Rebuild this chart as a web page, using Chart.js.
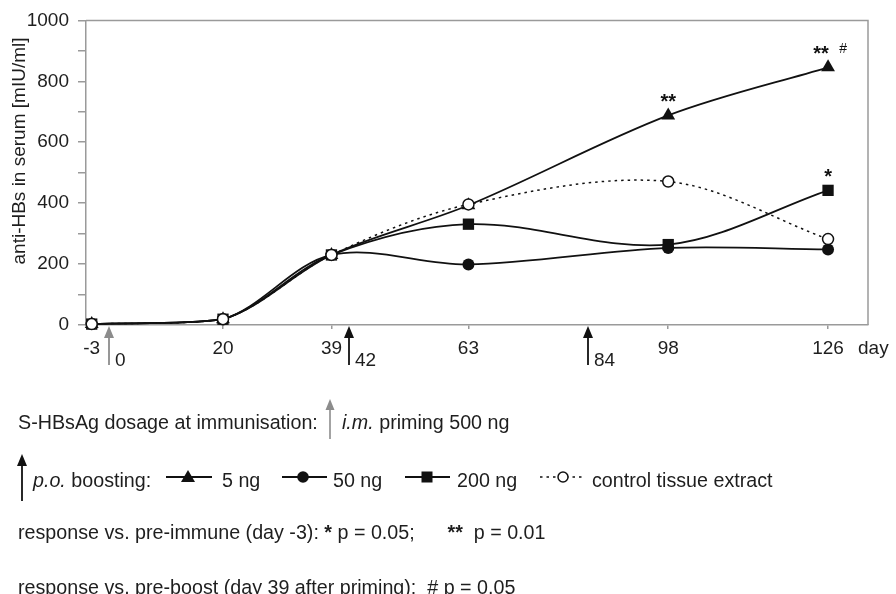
<!DOCTYPE html>
<html>
<head>
<meta charset="utf-8">
<script src="https://cdn.jsdelivr.net/npm/chart.js@4"></script>
<style>
  body { margin: 0; background: #fff; width: 896px; height: 594px; position: relative; overflow: hidden;
         font-family: "Liberation Sans", Arial, sans-serif; color: #1e1e1e; }
  #chart { position: absolute; left: 0; top: 0; }
  .t { position: absolute; font-size: 19.7px; line-height: 22px; white-space: pre; }
  svg { position: absolute; left: 0; top: 0; }
</style>
</head>
<body>
<canvas id="chart" width="896" height="390"></canvas>

<svg width="896" height="594">
  <!-- i.m. priming arrow -->
  <line x1="330" y1="439" x2="330" y2="404" stroke="#8c8c8c" stroke-width="1.6"/>
  <polygon points="330,399 325.5,410 334.5,410" fill="#8c8c8c"/>
  <!-- p.o. boosting arrow -->
  <line x1="22" y1="501" x2="22" y2="460" stroke="#111" stroke-width="1.8"/>
  <polygon points="22,454 17,466 27,466" fill="#111"/>
  <!-- legend samples -->
  <line x1="166" y1="477" x2="212" y2="477" stroke="#111" stroke-width="1.8"/>
  <polygon points="188,470 195,482 181,482" fill="#111"/>
  <line x1="282" y1="477" x2="327" y2="477" stroke="#111" stroke-width="1.8"/>
  <circle cx="303" cy="477" r="5.8" fill="#111"/>
  <line x1="405" y1="477" x2="450" y2="477" stroke="#111" stroke-width="1.8"/>
  <rect x="421.5" y="471.5" width="11" height="11" fill="#111"/>
  <line x1="540" y1="477" x2="583" y2="477" stroke="#111" stroke-width="1.5" stroke-dasharray="2.5,4"/>
  <circle cx="563" cy="477" r="5" fill="#fff" stroke="#111" stroke-width="1.5"/>
</svg>

<div class="t" style="left:18px; top:411px;">S-HBsAg dosage at immunisation:</div>
<div class="t" style="left:342px; top:411px;"><i>i.m.</i> priming 500 ng</div>

<div class="t" style="left:33px; top:469px;"><i>p.o.</i> boosting:</div>
<div class="t" style="left:222px; top:469px;">5 ng</div>
<div class="t" style="left:333px; top:469px;">50 ng</div>
<div class="t" style="left:457px; top:469px;">200 ng</div>
<div class="t" style="left:592px; top:469px;">control tissue extract</div>

<div class="t" style="left:18px; top:521px;">response vs. pre-immune (day -3): <b>*</b> p = 0.05;      <b>**</b>  p = 0.01</div>
<div class="t" style="left:18px; top:576px;">response vs. pre-boost (day 39 after priming):  # p = 0.05</div>

<script>
// sampling days and anti-HBs titres (mIU/ml)
const days = [-3, 20, 39, 63, 98, 126];
const dose5ng = [3, 19, 230, 393, 688, 846];
const dose50ng = [3, 19, 230, 199, 253, 248];
const dose200ng = [3, 19, 230, 331, 264, 442];
const controlExtract = [3, 19, 230, 396, 471, 282];

const primingDays = [0];
const boostDays = [42, 84];

// significance marks: [day, series, text]
const marks = [
  [98, dose5ng, "**"],
  [126, dose5ng, "**"],
  [126, dose200ng, "*"],
];
const boostMarks = [[126, dose5ng, "#"]];

const AXIS = "#9a9a9a";
const INK = "#111";
const FONT = "'Liberation Sans', Arial, sans-serif";

const toXY = vals => days.map((d, i) => ({ x: d, y: vals[i] }));

function series(vals, style, order) {
  return {
    data: toXY(vals),
    order,
    clip: false,
    borderColor: INK,
    borderWidth: 1.8,
    backgroundColor: INK,
    pointBackgroundColor: INK,
    pointBorderColor: INK,
    pointBorderWidth: 0,
    pointStyle: style,
    pointRadius: style == "circle" ? 6 : 8,
    tension: 0.33,
    fill: false,
  };
}

const extras = {
  id: "extras",
  afterDatasetsDraw(chart) {
    const { ctx, chartArea: a, scales: { x, y } } = chart;
    ctx.save();

    // box round the plot
    ctx.strokeStyle = AXIS;
    ctx.lineWidth = 1.5;
    ctx.beginPath();
    ctx.moveTo(a.left, a.top);
    ctx.lineTo(a.right, a.top);
    ctx.lineTo(a.right, a.bottom);
    ctx.stroke();

    // immunisation arrows under the axis
    const arrow = (day, color) => {
      const px = Math.round(x.getPixelForValue(day));
      ctx.strokeStyle = color;
      ctx.fillStyle = color;
      ctx.lineWidth = 1.8;
      ctx.beginPath();
      ctx.moveTo(px, a.bottom + 40);
      ctx.lineTo(px, a.bottom + 8);
      ctx.stroke();
      ctx.beginPath();
      ctx.moveTo(px, a.bottom + 1);
      ctx.lineTo(px - 5, a.bottom + 13);
      ctx.lineTo(px + 5, a.bottom + 13);
      ctx.closePath();
      ctx.fill();
      ctx.fillStyle = "#1e1e1e";
      ctx.font = "19px " + FONT;
      ctx.textAlign = "left";
      ctx.textBaseline = "middle";
      ctx.fillText(String(day), px + 6, a.bottom + 36);
    };
    primingDays.forEach(d => arrow(d, "#8c8c8c"));
    boostDays.forEach(d => arrow(d, INK));

    // unit label
    ctx.fillStyle = "#1e1e1e";
    ctx.font = "19px " + FONT;
    ctx.textAlign = "left";
    ctx.textBaseline = "middle";
    ctx.fillText("day", a.right - 10, a.bottom + 24);

    // y title
    ctx.save();
    ctx.translate(20, 151);
    ctx.rotate(-Math.PI / 2);
    ctx.textAlign = "center";
    ctx.fillText("anti-HBs in serum [mIU/ml]", 0, 0);
    ctx.restore();

    // significance
    ctx.fillStyle = INK;
    ctx.textAlign = "center";
    ctx.textBaseline = "alphabetic";
    ctx.font = "bold 20px " + FONT;
    marks.forEach(([day, vals, txt]) => {
      const i = days.indexOf(day);
      const dx = txt == "**" && day == 126 ? -7 : 0;
      ctx.fillText(txt, x.getPixelForValue(day) + dx, y.getPixelForValue(vals[i]) - 7);
    });
    ctx.font = "14px " + FONT;
    boostMarks.forEach(([day, vals, txt]) => {
      const i = days.indexOf(day);
      ctx.fillText(txt, x.getPixelForValue(day) + 15, y.getPixelForValue(vals[i]) - 14);
    });
    ctx.restore();
  }
};

const control = series(controlExtract, "circle", 0);
control.borderWidth = 1.5;
control.borderDash = [2.5, 4];
control.pointBackgroundColor = "#fff";
control.pointBorderWidth = 1.5;
control.pointRadius = 5.5;

new Chart(document.getElementById("chart"), {
  type: "line",
  data: {
    datasets: [
      control,
      series(dose200ng, "rect", 1),
      series(dose50ng, "circle", 2),
      series(dose5ng, "triangle", 3),
    ]
  },
  options: {
    responsive: false,
    animation: false,
    events: [],
    layout: { padding: { left: 0, top: 16, right: 28, bottom: 0 } },
    plugins: { legend: { display: false }, tooltip: { enabled: false } },
    scales: {
      x: {
        type: "linear",
        min: -4,
        max: 133,
        afterBuildTicks: s => { s.ticks = days.map(v => ({ value: v })) },
        afterFit: s => { s.height = 390 - 325 },
        border: { display: true, color: AXIS, width: 1.5 },
        grid: { drawOnChartArea: false, drawTicks: true, tickLength: 4, color: AXIS, lineWidth: 1.5 },
        ticks: { padding: 8, color: "#1e1e1e", font: { size: 19, family: FONT }, maxRotation: 0, autoSkip: false },
      },
      y: {
        min: 0,
        max: 1000,
        afterFit: s => { s.width = 86 },
        border: { display: true, color: AXIS, width: 1.5 },
        grid: { drawOnChartArea: false, drawTicks: true, tickLength: 8, color: AXIS, lineWidth: 1.5 },
        ticks: {
          stepSize: 100,
          padding: 9,
          color: "#1e1e1e",
          font: { size: 19, family: FONT },
          callback: v => v % 200 === 0 ? v : "",
        },
      },
    },
  },
  plugins: [extras],
});
</script>
</body>
</html>
